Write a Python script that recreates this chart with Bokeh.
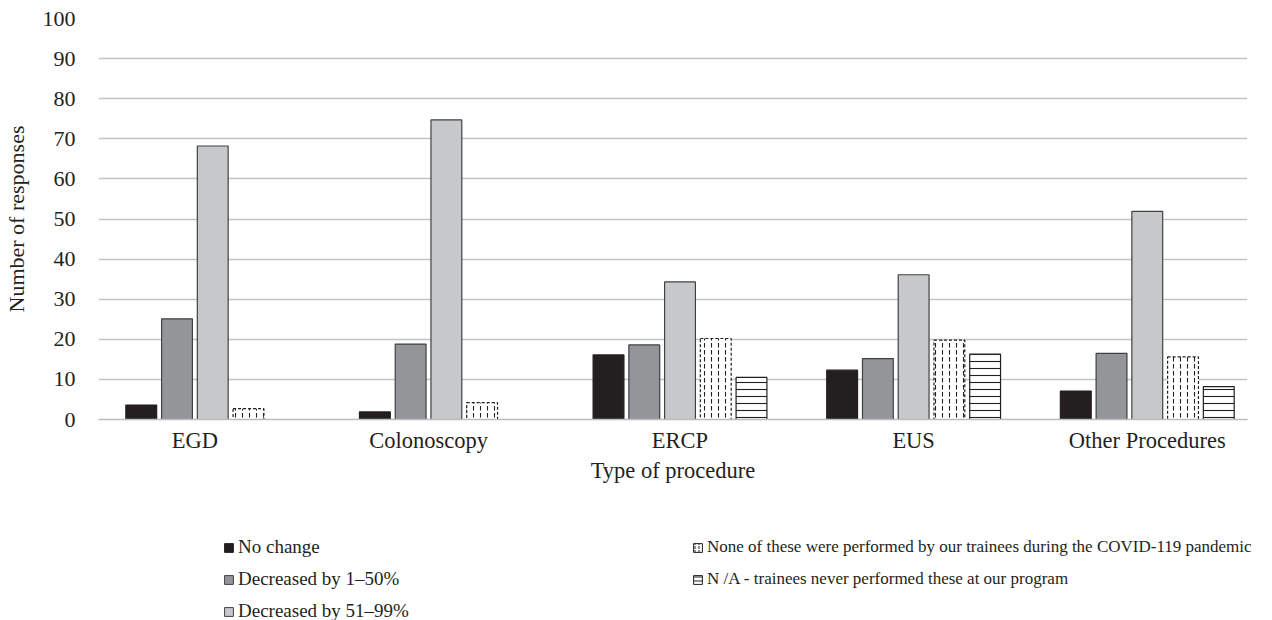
from bokeh.plotting import figure
from bokeh.models import Range1d, FixedTicker, Legend, LegendItem, ColumnDataSource
from bokeh.embed import file_html
from bokeh.resources import INLINE

# ---------------- data ----------------
categories = ["EGD", "Colonoscopy", "ERCP", "EUS", "Other Procedures"]
no_change = [3.6, 1.9, 16.1, 12.3, 7.1]
decreased_1_50 = [25.1, 18.8, 18.6, 15.2, 16.5]
decreased_51_99 = [68.2, 74.7, 34.3, 36.1, 51.9]
none_performed = [2.7, 4.2, 20.2, 19.8, 15.6]
not_applicable = [0, 0, 10.5, 16.3, 8.2]
series_names = [
    "No change",
    "Decreased by 1\u201350%",
    "Decreased by 51\u201399%",
    "None of these were performed by our trainees during the COVID-119 pandemic",
    "N /A - trainees never performed these at our program",
]
y_ticks = [0, 10, 20, 30, 40, 50, 60, 70, 80, 90, 100]

series_values = [no_change, decreased_1_50, decreased_51_99, none_performed, not_applicable]

# ---------------- style ----------------
FONT = "Liberation Serif"
FS = "22.5px"
TXT = "#231f20"
fills = ["#231f20", "#939598", "#c7c8ca", "#ffffff", "#ffffff"]
outlines = ["#231f20", "#414042", "#414042", "#231f20", "#231f20"]
hatches = [" ", " ", " ", "vertical_dash", "horizontal_line"]
dashes = ["solid", "solid", "solid", "3 2", "solid"]
slot = 0.153
bar_w = 0.132
n_series = len(series_values)
offsets = [(j - (n_series - 1) / 2) * slot for j in range(n_series)]

p = figure(width=1256, height=490, output_backend="svg", toolbar_location=None,
           x_range=Range1d(-0.489, 4.429), y_range=Range1d(0, 100),
           min_border_left=90, min_border_right=9, min_border_top=18,
           min_border_bottom=71)

for j, vals in enumerate(series_values):
    xs = [i + offsets[j] for i, v in enumerate(vals) if v > 0]
    tops = [v for v in vals if v > 0]
    src = ColumnDataSource(dict(x=xs, top=tops))
    p.vbar(x="x", top="top", bottom=0, width=bar_w, source=src,
           fill_color=fills[j], line_color=outlines[j], line_width=1.2,
           line_dash=dashes[j], hatch_pattern=hatches[j], hatch_color="#231f20",
           hatch_scale=7, hatch_weight=1.1)

# category label positions: centre of the bars actually drawn
label_pos = []
for i in range(len(categories)):
    offs = [offsets[j] for j in range(n_series) if series_values[j][i] > 0]
    label_pos.append(round(i + sum(offs) / len(offs), 4))

p.xaxis.ticker = FixedTicker(ticks=label_pos)
p.xaxis.major_label_overrides = {pos: name for pos, name in zip(label_pos, categories)}
p.yaxis.ticker = FixedTicker(ticks=y_ticks)

for ax in (p.xaxis[0], p.yaxis[0]):
    ax.major_label_text_font = FONT
    ax.major_label_text_font_size = FS
    ax.major_label_text_color = TXT
    ax.axis_label_text_font = FONT
    ax.axis_label_text_font_size = FS
    ax.axis_label_text_font_style = "normal"
    ax.axis_label_text_color = TXT
    ax.major_tick_line_color = None
    ax.minor_tick_line_color = None
    ax.major_tick_out = 0
    ax.major_tick_in = 0

p.yaxis.major_label_text_font_size = "22px"
p.yaxis.axis_label_text_font_size = "22px"
p.xaxis.axis_label = "Type of procedure"
p.xaxis.axis_line_color = "#bcbcbc"
p.xaxis.axis_line_width = 1.5
p.xaxis.major_label_standoff = 8
p.xaxis.axis_label_standoff = 2

p.yaxis.axis_label = "Number of responses"
p.yaxis.axis_line_color = None
p.yaxis.major_label_standoff = 23
p.yaxis.axis_label_standoff = 11

p.xgrid.grid_line_color = None
p.ygrid.grid_line_color = "#c4c4c4"
p.ygrid.grid_line_width = 1.5
p.outline_line_color = None
p.background_fill_color = "white"
p.border_fill_color = "white"

# ---------------- legend strip ----------------
lf = figure(width=1256, height=130, output_backend="svg", toolbar_location=None,
            x_range=Range1d(0, 1), y_range=Range1d(0, 1), min_border=0)
lf.axis.visible = False
lf.grid.grid_line_color = None
lf.outline_line_color = None

leg_renderers = []
for j in range(n_series):
    # legend keys only (hidden renderers, styled like the chart's series)
    r = lf.vbar(x=[0.5], top=[0.5], width=0.1, fill_color=fills[j], line_color=outlines[j],
                line_width=1, hatch_pattern=hatches[j],
                hatch_color="#231f20", hatch_scale=4, hatch_weight=1, visible=False)
    leg_renderers.append(r)

def make_legend(idx, loc, size):
    return Legend(items=[LegendItem(label=series_names[k], renderers=[leg_renderers[k]])
                         for k in idx],
                  location=loc, orientation="vertical",
                  label_text_font=FONT, label_text_font_size=size, label_text_color=TXT,
                  glyph_width=11, glyph_height=11, label_standoff=4, spacing=6,
                  label_height=26, padding=0, margin=0, border_line_color=None,
                  background_fill_alpha=0, inactive_fill_alpha=0)

lf.add_layout(make_legend([0, 1, 2], (223, -4), "19px"), "center")
lf.add_layout(make_legend([3, 4], (692, 28), "17px"), "center")

open("out.html", "w").write(file_html([p, lf], INLINE))
